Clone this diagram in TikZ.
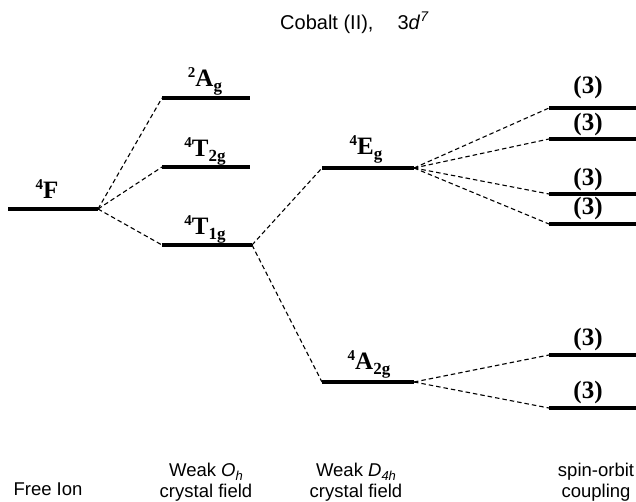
\documentclass[tikz,border=0pt]{standalone}
\usepackage{fontspec}
\setmainfont{Liberation Serif}
\setsansfont{Liberation Sans}
\newcommand{\term}[3]{\raisebox{0.36em}{\fontsize{15}{15}\selectfont #1}#2\raisebox{-0.2em}{\fontsize{17}{17}\selectfont #3}}
\newcommand{\capsub}[1]{\raisebox{-0.25em}[0pt][0pt]{\fontsize{13}{13}\selectfont\textit{#1}}}
\begin{document}
\begin{tikzpicture}[x=1pt,y=-1pt,
  level/.style={line width=3.8pt},
  conn/.style={line width=1.1pt,dash pattern=on 4.5pt off 3pt},
  lab/.style={anchor=base,inner sep=0pt,font=\fontsize{25}{25}\selectfont\bfseries},
  mult/.style={anchor=base,inner sep=0pt,font=\fontsize{25}{25}\selectfont\bfseries},
  captext/.style={anchor=base,inner sep=0pt,font=\fontsize{18.5}{18.5}\selectfont\sffamily}]
\useasboundingbox (0,0) rectangle (636,502);
% title
\node[anchor=base west,inner sep=0pt,font=\fontsize{20}{20}\selectfont\sffamily] (title) at (280,30) {Cobalt (II),\hspace{24pt}3\textit{d}\raisebox{0.42em}{\fontsize{14}{14}\selectfont\textit{7}}};
% level end points
\coordinate (fL) at (8,209);   \coordinate (fR) at (98,209);
\coordinate (agL) at (162,98); \coordinate (agR) at (250,98);
\coordinate (t2L) at (162,167);\coordinate (t2R) at (250,167);
\coordinate (t1L) at (162,245);\coordinate (t1R) at (252,245);
\coordinate (egL) at (322,168);\coordinate (egR) at (414,168);
\coordinate (a2L) at (322,382);\coordinate (a2R) at (414,382);
\coordinate (s1L) at (549,108);\coordinate (s1R) at (636,108);
\coordinate (s2L) at (549,139);\coordinate (s2R) at (636,139);
\coordinate (s3L) at (549,194);\coordinate (s3R) at (636,194);
\coordinate (s4L) at (549,224);\coordinate (s4R) at (636,224);
\coordinate (s5L) at (549,355);\coordinate (s5R) at (636,355);
\coordinate (s6L) at (549,408);\coordinate (s6R) at (636,408);
% levels
\foreach \n in {f,ag,t2,t1,eg,a2,s1,s2,s3,s4,s5,s6}
  \draw[level] (\n L) -- (\n R);
% labels
\node[lab] (lF) at (47,199) {\term{4}{F}{}};
\node[lab] (lAg) at (205,87) {\term{2}{A}{g}};
\node[lab] (lT2) at (205,157) {\term{4}{T}{2g}};
\node[lab] (lT1) at (205,235) {\term{4}{T}{1g}};
\node[lab] (lEg) at (366,155) {\term{4}{E}{g}};
\node[lab] (lA2) at (369,369) {\term{4}{A}{2g}};
\node[mult] (m1) at (588,94) {(3)};
\node[mult] (m2) at (588,131) {(3)};
\node[mult] (m3) at (588,186) {(3)};
\node[mult] (m4) at (588,215) {(3)};
\node[mult] (m5) at (588,345) {(3)};
\node[mult] (m6) at (588,398) {(3)};
% connectors
\draw[conn] (fR) -- (agL);
\draw[conn] (fR) -- (t2L);
\draw[conn] (fR) -- (t1L);
\draw[conn] (t1R) -- (egL);
\draw[conn] (t1R) -- (a2L);
\foreach \n in {s1,s2,s3,s4} \draw[conn] (egR) -- (\n L);
\foreach \n in {s5,s6} \draw[conn] (a2R) -- (\n L);
% captions
\node[captext] (c1) at (48,495) {Free Ion};
\node[captext] (c2a) at (206,476) {Weak \textit{O}\capsub{h}};
\node[captext] (c2b) at (206,497) {crystal field};
\node[captext] (c3a) at (356,476) {Weak \textit{D}\capsub{4h}};
\node[captext] (c3b) at (356,497) {crystal field};
\node[captext] (c4a) at (596,476) {spin-orbit};
\node[captext] (c4b) at (596,497) {coupling};
\end{tikzpicture}
\end{document}
